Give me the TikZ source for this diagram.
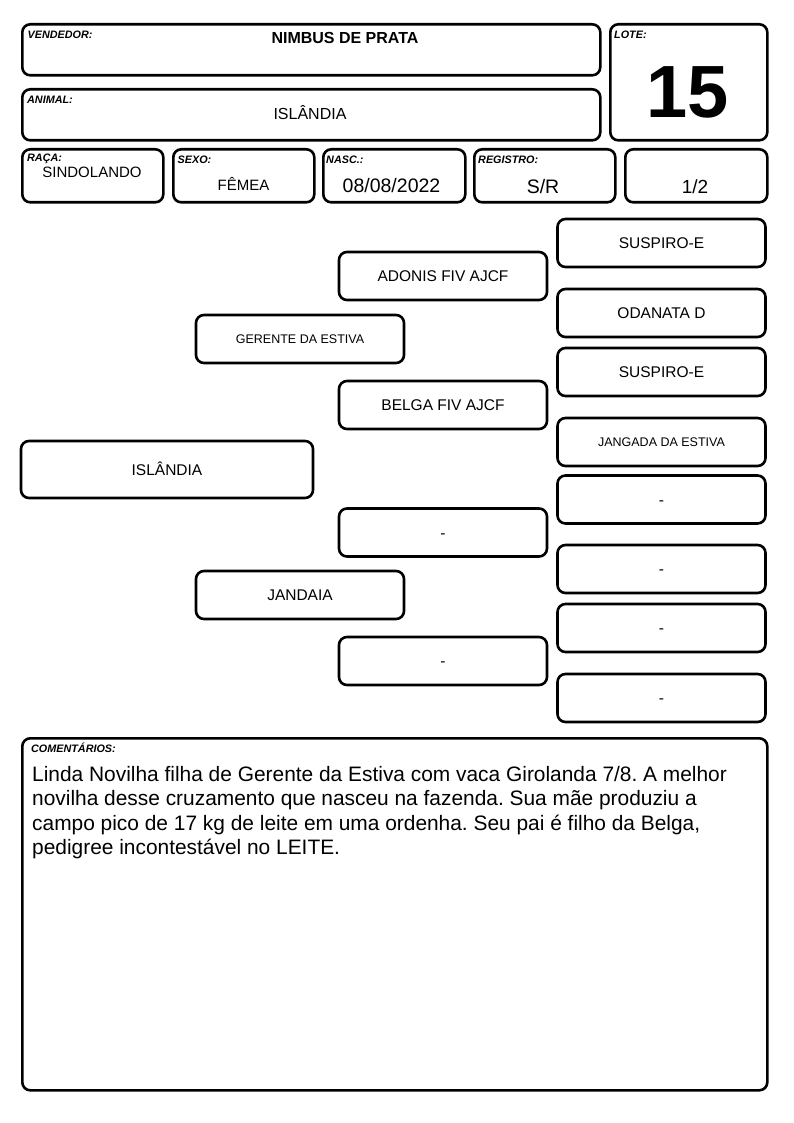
\documentclass[tikz,border=0pt]{standalone}
\usepackage{fontspec}
\setmainfont{Liberation Sans}
\usetikzlibrary{positioning}
\newcommand\fs[1]{\fontsize{#1}{#1}\selectfont}
\frenchspacing

\tikzset{
  card/.style={draw, line width=2.6pt, rounded corners=8pt, inner sep=0pt, anchor=north west},
  ped/.style={draw, line width=2.6pt, rounded corners=8pt, inner sep=0pt,
    minimum width=208, minimum height=48, text height=11pt, text depth=0pt, font=\fs{15.5}},
  pedsmall/.style={ped, text height=9pt, font=\fs{12.5}},
  tag/.style={anchor=west, inner sep=0pt, font=\fs{10.8}\bfseries\itshape},
  value/.style={inner sep=0pt, font=\fs{15.5}},
}

\begin{document}
\begin{tikzpicture}[x=1pt,y=-1pt]
	\useasboundingbox (0,0) rectangle (794,1123);

	%% header
	\node[card, minimum width=578, minimum height=51] (vend) at (21,23) {};
	\node[card, minimum width=157, minimum height=116] (lote) at (609,23) {};
	\node[card, minimum width=578, minimum height=51] (animal) at (21,88) {};

	\node[card, minimum width=141, minimum height=53] (raca) at (21,148) {};
	\node[card, minimum width=141, minimum height=53] (sexo) at (172,148) {};
	\node[card, minimum width=142, minimum height=53] (nasc) at (322,148) {};
	\node[card, minimum width=141, minimum height=53] (registro) at (473,148) {};
	\node[card, minimum width=142, minimum height=53] (parte) at (624,148) {};

	\node[tag] (vendtag) at (27.5,35) {VENDEDOR:};
	\node[tag] (lotetag) at (614,35) {LOTE:};
	\node[tag] (animaltag) at (27,100) {ANIMAL:};
	\node[tag] (racatag) at (27,159) {RAÇA:};
	\node[tag] (sexotag) at (177.5,160) {SEXO:};
	\node[tag] (nasctag) at (326,160) {NASC.:};
	\node[tag] (registrotag) at (478,160) {REGISTRO:};

	\node[value, font=\fs{16}\bfseries] (vendname) at (345,38) {NIMBUS DE PRATA};
	\node[value, font=\fs{74}\bfseries] (lotenum) at (688,92) {15};
	\node[value, font=\fs{16}] (animalname) at (310,113) {ISLÂNDIA};
	\node[value, font=\fs{15}] (racaname) at (92,172.5) {SINDOLANDO};
	\node[value, font=\fs{15}] (sexoname) at (243.5,184) {FÊMEA};
	\node[value, font=\fs{19.5}] (nascdate) at (391.5,186) {08/08/2022};
	\node[value, font=\fs{19.5}] (regnum) at (543,187) {S/R};
	\node[value, font=\fs{19}] (partenum) at (695,187) {1/2};

	%% pedigree
	\node[ped, minimum width=292, minimum height=57] (self) at (167,469.5) {ISLÂNDIA};

	\node[pedsmall] (sire) at (300,339) {GERENTE DA ESTIVA};
	\node[ped] (dam) at (300,595) {JANDAIA};

	\node[ped] (ss) at (443,276) {ADONIS FIV AJCF};
	\node[ped] (sd) at (443,405) {BELGA FIV AJCF};
	\node[ped] (ds) at (443,532.5) {-};
	\node[ped] (dd) at (443,661) {-};

	\node[ped] (sss) at (661.5,243) {SUSPIRO-E};
	\node[ped] (ssd) at (661.5,313) {ODANATA D};
	\node[ped] (sds) at (661.5,372) {SUSPIRO-E};
	\node[pedsmall] (sdd) at (661.5,442) {JANGADA DA ESTIVA};
	\node[ped] (dss) at (661.5,499.5) {-};
	\node[ped] (dsd) at (661.5,569) {-};
	\node[ped] (dds) at (661.5,628) {-};
	\node[ped] (ddd) at (661.5,698) {-};

	%% comments
	\node[card, minimum width=745, minimum height=352] (notes) at (21,737) {};
	\node[tag] (notestag) at (31,748) {COMENTÁRIOS:};
	\node[anchor=north west, inner sep=0pt, align=left, font=\fontsize{20.9}{24.5}\selectfont] (notestext) at (32,766)
		{Linda Novilha filha de Gerente da Estiva com vaca Girolanda 7/8. A melhor\\
		 novilha desse cruzamento que nasceu na fazenda. Sua mãe produziu a\\
		 campo pico de 17 kg de leite em uma ordenha. Seu pai é filho da Belga,\\
		 pedigree incontestável no LEITE.};
\end{tikzpicture}
\end{document}
